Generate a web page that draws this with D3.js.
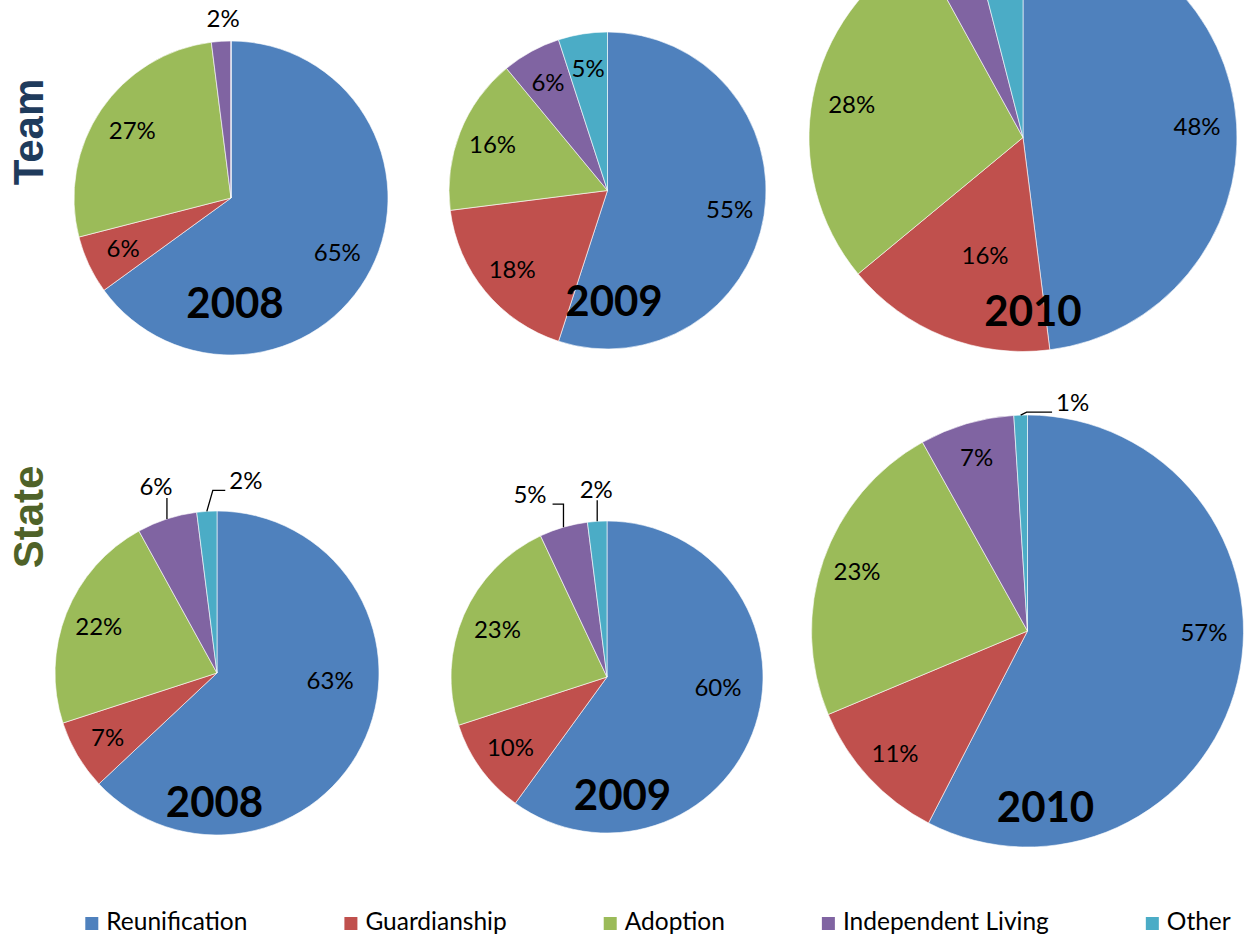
<!DOCTYPE html>
<html><head><meta charset="utf-8">
<script src="https://cdn.jsdelivr.net/npm/d3@7"></script>
<style>body{margin:0;background:#fff} svg{display:block}</style>
</head><body><svg id="c" width="1247" height="937"></svg>
<script>
// ---------- data ----------
const categories = ["Reunification","Guardianship","Adoption","Independent Living","Other"];
const colors = ["#4F81BD","#C0504D","#9BBB59","#8064A2","#4BACC6"];
const years = ["2008","2009","2010"];
const groups = ["Team","State"];
const team2008 = [65,6,27,2,0];
const team2009 = [55,18,16,6,5];
const team2010 = [48,16,28,4,4];
const state2008 = [63,7,22,6,2];
const state2009 = [60,10,23,5,2];
const state2010 = [57,11,23,7,1];
const values = {Team:[team2008,team2009,team2010], State:[state2008,state2009,state2010]};

// ---------- layout ----------
const pieLayout = {
  "Team-2008":  {cx:231,   cy:198,   r:157,   k:0.76,  yearX:235,   yearY:318},
  "Team-2009":  {cx:607.5, cy:190.5, r:158.5, k:0.78,  yearX:614,   yearY:316},
  "Team-2010":  {cx:1023,  cy:137.5, r:214,   k:0.815, yearX:1033,  yearY:326},
  "State-2008": {cx:217,   cy:673,   r:162,   k:0.785, yearX:214.5, yearY:817},
  "State-2009": {cx:607,   cy:677,   r:156,   k:0.765, yearX:622.5, yearY:810},
  "State-2010": {cx:1027.5,cy:631,   r:216,   k:0.835, yearX:1045.5,yearY:822}
};
const labelTweaks = {
  "State-2008-Reunification": {da:-19.4, k:0.70},
  "State-2009-Reunification": {da:-12.3, k:0.715},
  "State-2010-Reunification": {da:-13,   k:0.817},
  "Team-2010-Guardianship":   {da:-3.8,  k:0.58}
};
const outsideLabels = {
  "Team-2008-Independent Living":  {dx:2,     dy:-23, leader:false},
  "State-2008-Independent Living": {dx:-11,   dy:-32, leader:true},
  "State-2008-Other":              {dx:39,    dy:-31, leader:true},
  "State-2009-Independent Living": {dx:-33.5, dy:-33, leader:true},
  "State-2009-Other":              {dx:-1,    dy:-32, leader:true},
  "State-2010-Other":              {dx:52,    dy:-13, leader:true}
};
const rowLabels = {
  Team:  {x:43, y:132, color:"#1F3B5C"},
  State: {x:43, y:517, color:"#4F6228"}
};
const FONT = "Lato, 'Open Sans', sans-serif";
const LABEL_SIZE = 24;

const svg = d3.select("#c");
svg.append("rect").attr("width",1247).attr("height",937).attr("fill","#fff");

const color = d3.scaleOrdinal().domain(categories).range(colors);
const pie = d3.pie().sort(null).value(d => d.value);

groups.forEach(g => {
  years.forEach((y, yi) => {
    const key = g + "-" + y;
    const L = pieLayout[key];
    const data = categories.map((c, i) => ({cat:c, value: values[g][yi][i]}));
    const arcs = pie(data);
    const gg = svg.append("g").attr("transform", `translate(${L.cx},${L.cy})`);
    const arc = d3.arc().innerRadius(0).outerRadius(L.r);
    gg.selectAll("path").data(arcs).join("path")
      .attr("d", arc)
      .attr("fill", d => color(d.data.cat))
      .attr("stroke", "#ffffff").attr("stroke-width", 0.6);

    arcs.forEach(d => {
      if (d.data.value <= 0) return;
      const lk = key + "-" + d.data.cat;
      const mid = (d.startAngle + d.endAngle) / 2;
      const txt = d.data.value + "%";
      if (outsideLabels[lk]) {
        const o = outsideLabels[lk];
        const px = L.r * Math.sin(mid), py = -L.r * Math.cos(mid);
        const lx = px + o.dx, ly = py + o.dy;
        const t = gg.append("text").attr("x", lx).attr("y", ly).attr("dy","0.35em")
          .attr("text-anchor","middle").attr("font-family",FONT).attr("font-size",LABEL_SIZE)
          .attr("fill","#000").text(txt);
        if (o.leader) {
          const w = t.node().getComputedTextLength();
          let pts;
          if (Math.abs(lx - px) < w/2 - 2) {
            pts = [[px, py], [px, ly + 11]];
          } else if (lx > px) {
            pts = [[px, py], [px + 6, ly + 10], [lx - w/2 - 4, ly + 10]];
          } else {
            pts = [[px, py], [px, ly + 10], [lx + w/2 + 6, ly + 10]];
          }
          gg.append("path").attr("d", d3.line()(pts))
            .attr("fill","none").attr("stroke","#000").attr("stroke-width",1.3);
        }
      } else {
        const tw = labelTweaks[lk] || {};
        const kk = tw.k || L.k;
        const a = mid + (tw.da || 0) * Math.PI / 180;
        const la = d3.arc().innerRadius(kk * L.r).outerRadius(kk * L.r);
        const c = la.centroid({startAngle:a, endAngle:a});
        // labels that fall beyond the top edge of the (cropped) slide are not shown
        if (L.cy + c[1] - LABEL_SIZE / 2 < 0) return;
        gg.append("text").attr("x", c[0]).attr("y", c[1]).attr("dy","0.35em")
          .attr("text-anchor","middle").attr("font-family",FONT).attr("font-size",LABEL_SIZE)
          .attr("fill","#000").text(txt);
      }
    });

    svg.append("text").attr("x", L.yearX).attr("y", L.yearY)
      .attr("text-anchor","middle").attr("font-family",FONT).attr("font-weight","bold")
      .attr("font-size",42).attr("fill","#000").text(y);
  });
  const R = rowLabels[g];
  svg.append("text").attr("transform", `translate(${R.x},${R.y}) rotate(-90)`)
    .attr("text-anchor","middle").attr("font-family","'Liberation Sans', Arial, sans-serif")
    .attr("font-weight","bold").attr("font-size",42).attr("fill",R.color).text(g);
});

// legend
const lg = svg.append("g");
let x = 0;
categories.forEach(c => {
  const it = lg.append("g").attr("transform", `translate(${x},0)`);
  it.append("rect").attr("x",0).attr("y",917).attr("width",13).attr("height",13).attr("fill",color(c));
  const t = it.append("text").attr("x",21).attr("y",930).attr("font-family",FONT)
    .attr("font-size",24.5).attr("fill","#000").text(c);
  const w = t.node().getComputedTextLength();
  x += 21 + w + 97;
});
const total = x - 97;
lg.attr("transform", `translate(${658 - total/2},0)`);
</script></body></html>
